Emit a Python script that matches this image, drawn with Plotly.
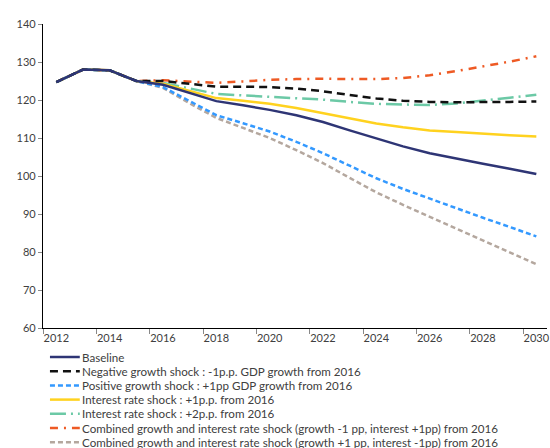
import plotly.graph_objects as go

years = list(range(2012, 2031))
common = [124.7, 128.0, 127.8, 125.0]

baseline = common + [124.0, 121.8, 119.7, 118.6, 117.4, 116.0, 114.2, 112.0, 109.8,
                     107.8, 106.0, 104.5, 103.2, 101.9, 100.5]
neg_growth = common + [125.0, 124.3, 123.5, 123.5, 123.4, 123.0, 122.3, 121.3, 120.4,
                       119.8, 119.5, 119.4, 119.4, 119.5, 119.6]
pos_growth = common + [123.4, 119.6, 116.0, 113.9, 111.7, 109.0, 106.0, 102.7, 99.4,
                       96.6, 94.0, 91.5, 89.0, 86.6, 84.1]
rate_1pp = common + [124.3, 122.3, 120.5, 119.8, 119.0, 117.9, 116.6, 115.1, 113.8,
                     112.8, 112.0, 111.6, 111.1, 110.7, 110.4]
rate_2pp = common + [124.5, 123.0, 121.6, 121.2, 120.8, 120.5, 120.1, 119.5, 119.0,
                     118.8, 118.7, 119.1, 119.8, 120.6, 121.4]
combined_neg = common + [125.2, 124.8, 124.5, 124.9, 125.3, 125.5, 125.6, 125.5, 125.5,
                         125.8, 126.5, 127.6, 128.8, 130.1, 131.5]
combined_pos = common + [123.2, 119.1, 115.3, 112.7, 110.0, 106.8, 103.4, 99.5, 95.7,
                         92.4, 89.3, 86.2, 83.1, 79.9, 76.8]

x_labels = [str(y) for y in range(2012, 2031, 2)]
y_ticks = list(range(60, 141, 10))

series = [
    ("Baseline", baseline, "#2E3575", "solid"),
    ("Negative growth shock : -1p.p. GDP growth from 2016", neg_growth, "#111111", "8px,5px"),
    ("Positive growth shock : +1pp GDP growth from 2016", pos_growth, "#3399FF", "5px,3px"),
    ("Interest rate shock : +1p.p. from 2016", rate_1pp, "#FFD21F", "solid"),
    ("Interest rate shock : +2p.p. from 2016", rate_2pp, "#6CC9A6", "16px,5px,2px,5px"),
    ("Combined growth and interest rate shock (growth -1 pp, interest +1pp) from 2016",
     combined_neg, "#EE5A24", "8px,6px,2px,6px"),
    ("Combined growth and interest rate shock (growth +1 pp, interest -1pp) from 2016",
     combined_pos, "#B4A79E", "5px,3px"),
]

W, H = 550, 448
ML, MR, MT, MB = 43, 0, 24, 120
plot_w = W - ML - MR
plot_h = H - MT - MB
FONT = "Lato"
TXT = "#404040"

fig = go.Figure()
# draw in reverse so the baseline ends up on top
for name, vals, color, dash in reversed(series):
    fig.add_trace(go.Scatter(x=years, y=vals, mode="lines", name=name,
                             line=dict(color=color, width=2.5, dash=dash),
                             showlegend=False))

# legend rows below the plot
def px_x(p):
    return (p - ML) / plot_w

def px_y(p):
    return (H - MB - p) / plot_h

shapes, annotations = [], []
row0, row_step = 357.0, 14.2
for i, (name, vals, color, dash) in enumerate(series):
    yy = px_y(row0 + i * row_step)
    shapes.append(dict(type="line", xref="paper", yref="paper",
                       x0=px_x(50), x1=px_x(80), y0=yy, y1=yy,
                       line=dict(color=color, width=2.5, dash=dash)))
    annotations.append(dict(xref="paper", yref="paper", x=px_x(80), y=yy,
                            text=name, showarrow=False, xanchor="left", yanchor="middle",
                            font=dict(family=FONT, size=11.6, color=TXT)))

fig.update_layout(
    width=W, height=H,
    margin=dict(l=ML, r=MR, t=MT, b=MB),
    paper_bgcolor="white", plot_bgcolor="white",
    font=dict(family=FONT, size=11, color=TXT),
    shapes=shapes, annotations=annotations,
    xaxis=dict(range=[2011.5, 2030.4], tickvals=[int(v) for v in x_labels], ticktext=x_labels,
               ticks="", showgrid=False, zeroline=False, ticklabeloverflow="allow",
               showline=True, linecolor="black", linewidth=1.2,
               tickfont=dict(family=FONT, size=11, color=TXT),
               minor=dict(ticks="outside", tick0=2011.5, dtick=2, ticklen=5,
                          tickcolor="#888888", showgrid=False)),
    yaxis=dict(range=[60, 140], tickvals=y_ticks, ticks="outside", ticklen=4,
               tickcolor="#888888", showgrid=False, zeroline=False,
               showline=True, linecolor="black", linewidth=1.2,
               tickfont=dict(family=FONT, size=11, color=TXT)),
)

fig.write_html("out.html")
